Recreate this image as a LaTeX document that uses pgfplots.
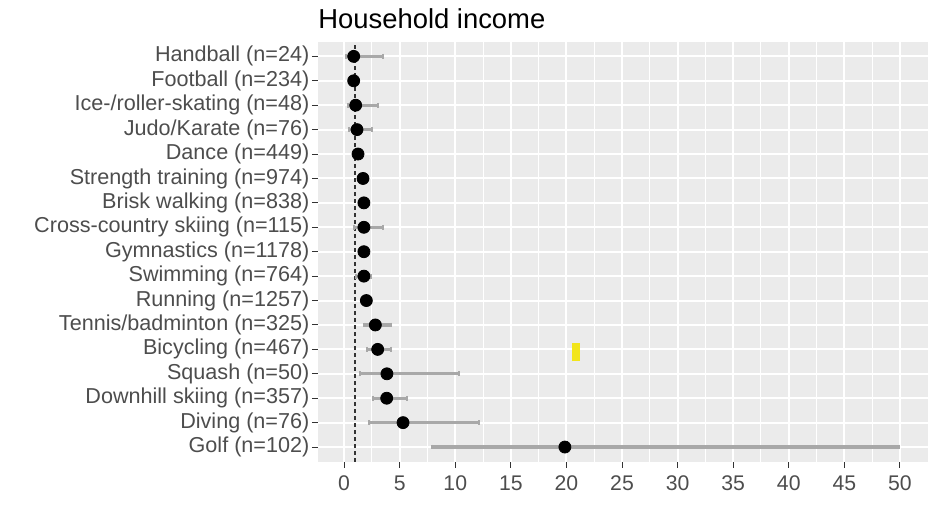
\documentclass[border=0pt]{standalone}
\usepackage{fontspec}
\setmainfont{Liberation Sans}
\usepackage{pgfplots}
\pgfplotsset{compat=1.18}
\usepackage{pgfplotstable}
\definecolor{panel}{HTML}{EBEBEB}
\definecolor{bar}{HTML}{A8A8A8}
\definecolor{txt}{HTML}{4D4D4D}
\definecolor{tk}{HTML}{333333}
\definecolor{hl}{HTML}{F2E51B}
\pgfplotstableread{
y x
17 0.86
16 0.86
15 1.04
14 1.16
13 1.25
12 1.70
11 1.78
10 1.78
9 1.78
8 1.78
7 2.00
6 2.81
5 3.02
4 3.85
3 3.83
2 5.30
1 19.86
}\points
\pgfplotstableread{
x y
0.20 17
3.50 17
nan nan
0.70 16
1.05 16
nan nan
0.34 15
3.05 15
nan nan
0.43 14
2.54 14
nan nan
1.05 13
1.45 13
nan nan
1.50 12
1.90 12
nan nan
1.55 11
2.00 11
nan nan
0.86 10
3.48 10
nan nan
1.55 9
2.00 9
nan nan
1.04 8
2.39 8
nan nan
1.75 7
2.25 7
nan nan
1.76 6
4.25 6
nan nan
2.09 5
4.25 5
nan nan
1.40 4
10.35 4
nan nan
2.60 3
5.70 3
nan nan
2.24 2
12.10 2
nan nan
7.90 1
49.90 1
}\cis
\begin{document}
\begin{tikzpicture}
\begin{axis}[
  scale only axis,
  width=304.85pt, height=210pt,
  xmin=-2.35, xmax=52.5,
  ymin=0.4, ymax=17.6,
  axis background/.style={fill=panel},
  axis line style={draw=none},
  xtick={0,5,...,50},
  minor x tick num=1,
  ytick={1,...,17},
  yticklabels={Golf (n=102),Diving (n=76),Downhill skiing (n=357),Squash (n=50),Bicycling (n=467),Tennis/badminton (n=325),Running (n=1257),Swimming (n=764),Gymnastics (n=1178),Cross-country skiing (n=115),Brisk walking (n=838),Strength training (n=974),Dance (n=449),Judo/Karate (n=76),Ice-/roller-skating (n=48),Football (n=234),Handball (n=24)},
  xmajorgrids, ymajorgrids, xminorgrids,
  major grid style={white, line width=1pt},
  minor grid style={white, line width=0.5pt},
  tick align=outside,
  xtick pos=bottom, ytick pos=left,
  major tick length=3pt, minor tick length=0pt,
  tick style={tk, line width=0.5pt},
  ticklabel style={font=\fontsize{10.6}{12}\selectfont, text=txt},
  xticklabel style={yshift=-0.5pt},
  yticklabel style={xshift=2.2pt, font=\fontsize{10.8}{12}\selectfont},
  /pgf/number format/assume math mode=true,
  title={Household income},
  title style={at={(0,1)}, anchor=base west, yshift=0.7pt, font=\fontsize{13.7}{16}\selectfont, text=black, inner sep=0pt},
  clip=false,
]
\addplot[tk, dashed, line width=0.75pt, dash pattern=on 2pt off 1.5pt] coordinates {(1,0.4) (1,17.6)};
\addplot[bar, line width=1.6pt, unbounded coords=jump, mark=|, mark size=1.2pt, mark options={solid, line width=1pt}] table[x=x, y=y] {\cis};
\addplot[only marks, mark=*, mark size=3pt, black] table[x=x, y=y] {\points};
\addplot[hl, line width=4pt] coordinates {(20.9,4.51) (20.9,5.245)};
\end{axis}
\pgfresetboundingbox
\path[use as bounding box] (current axis.south west) ++(-159pt,-24.65pt) rectangle ++(470.5pt,255.5pt);
\end{tikzpicture}
\end{document}
